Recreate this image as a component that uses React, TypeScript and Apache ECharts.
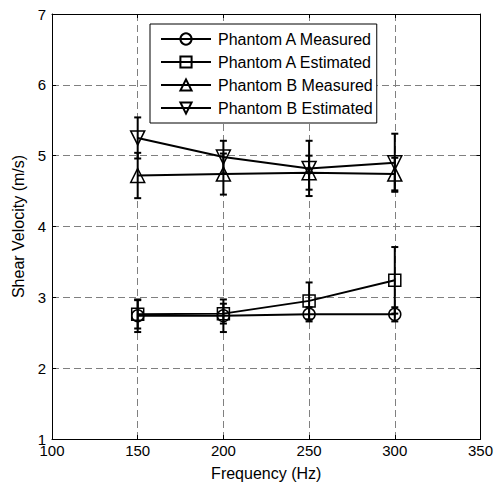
import React, { useEffect, useRef } from "react";
import * as echarts from "echarts";

const freqs = [150, 200, 250, 300];
const aMeasured = [2.74, 2.74, 2.76, 2.76];
const aMeasuredErr = [0.23, 0.23, 0.1, 0.1];
const aEstimated = [2.76, 2.77, 2.95, 3.24];
const aEstimatedErr = [0.2, 0.14, 0.26, 0.47];
const bMeasured = [4.72, 4.74, 4.76, 4.74];
const bMeasuredErr = [0.32, 0.29, 0.24, 0.23];
const bEstimated = [5.25, 4.98, 4.82, 4.9];
const bEstimatedErr = [0.29, 0.23, 0.39, 0.41];

const names = [
  "Phantom A Measured",
  "Phantom A Estimated",
  "Phantom B Measured",
  "Phantom B Estimated",
];

const FONT = "Liberation Sans, Arial, sans-serif";

export default function App() {
  const ref = useRef<HTMLDivElement>(null);
  useEffect(() => {
    document.body.style.margin = "0";
    if (!ref.current) return;
    const chart = echarts.init(ref.current, undefined, { renderer: "svg" });

    const lineSeries = (name: string, vals: number[], symbol: string, size: number, rotate = 0) => ({
      name,
      type: "line",
      data: freqs.map((f, i) => [f, vals[i]]),
      symbol,
      symbolSize: size,
      symbolRotate: rotate,
      showAllSymbol: true,
      lineStyle: { color: "#000", width: 2 },
      itemStyle: { color: "rgba(255,255,255,0)", borderColor: "#000", borderWidth: 1.5 },
      z: 3,
    });

    const errSeries = (vals: number[], errs: number[]) => ({
      type: "custom",
      data: freqs.map((f, i) => [f, vals[i] - errs[i], vals[i] + errs[i]]),
      encode: { x: 0, y: [1, 2] },
      renderItem: (params: any, api: any) => {
        const x = api.value(0);
        const lo = api.coord([x, api.value(1)]);
        const hi = api.coord([x, api.value(2)]);
        const cap = 3.5;
        const style = { stroke: "#000", lineWidth: 2 };
        return {
          type: "group",
          children: [
            { type: "line", shape: { x1: lo[0], y1: lo[1], x2: hi[0], y2: hi[1] }, style },
            { type: "line", shape: { x1: lo[0] - cap, y1: lo[1], x2: lo[0] + cap, y2: lo[1] }, style },
            { type: "line", shape: { x1: hi[0] - cap, y1: hi[1], x2: hi[0] + cap, y2: hi[1] }, style },
          ],
        };
      },
      z: 2,
      silent: true,
    });

    const splitLine = { show: true, lineStyle: { color: "#808080", width: 1, type: [7, 4] as any } };
    const axisLabel = { color: "#000", fontFamily: FONT, fontSize: 15 };

    chart.setOption({
      animation: false,
      backgroundColor: "#fff",
      grid: { left: 52, right: 13, top: 14, bottom: 43, show: false },
      legend: {
        data: names,
        orient: "vertical",
        left: 150,
        top: 24,
        itemWidth: 50,
        itemHeight: 14,
        itemGap: 7,
        padding: [7, 4, 7, 10],
        borderColor: "#000",
        borderWidth: 1,
        borderRadius: 0,
        backgroundColor: "#fff",
        textStyle: { color: "#000", fontFamily: FONT, fontSize: 16, padding: [0, 0, 0, 2] },
      },
      xAxis: [
        {
          type: "value",
          min: 100,
          max: 350,
          interval: 50,
          name: "Frequency (Hz)",
          nameLocation: "middle",
          nameGap: 26,
          nameTextStyle: { color: "#000", fontFamily: FONT, fontSize: 16 },
          axisLine: { show: true, lineStyle: { color: "#000", width: 1 } },
          axisTick: { show: true, inside: true, length: 4, lineStyle: { color: "#000" } },
          axisLabel: { ...axisLabel, margin: 4 },
          splitLine,
        },
        {
          type: "value",
          position: "top",
          min: 100,
          max: 350,
          interval: 50,
          axisLine: { show: true, lineStyle: { color: "#000", width: 1 } },
          axisTick: { show: true, inside: true, length: 4, lineStyle: { color: "#000" } },
          axisLabel: { show: false },
          splitLine: { show: false },
        },
      ],
      yAxis: [
        {
          type: "value",
          min: 1,
          max: 7,
          interval: 1,
          name: "Shear Velocity (m/s)",
          nameLocation: "middle",
          nameGap: 26,
          nameTextStyle: { color: "#000", fontFamily: FONT, fontSize: 16 },
          axisLine: { show: true, lineStyle: { color: "#000", width: 1 } },
          axisTick: { show: true, inside: true, length: 4, lineStyle: { color: "#000" } },
          axisLabel: { ...axisLabel, margin: 6 },
          splitLine,
        },
        {
          type: "value",
          position: "right",
          min: 1,
          max: 7,
          interval: 1,
          axisLine: { show: true, lineStyle: { color: "#000", width: 1 } },
          axisTick: { show: true, inside: true, length: 4, lineStyle: { color: "#000" } },
          axisLabel: { show: false },
          splitLine: { show: false },
        },
      ],
      series: [
        errSeries(aMeasured, aMeasuredErr),
        errSeries(aEstimated, aEstimatedErr),
        errSeries(bMeasured, bMeasuredErr),
        errSeries(bEstimated, bEstimatedErr),
        lineSeries(names[0], aMeasured, "circle", 12),
        lineSeries(names[1], aEstimated, "rect", 12),
        lineSeries(names[2], bMeasured, "triangle", 14),
        lineSeries(names[3], bEstimated, "triangle", 14, 180),
      ],
    });
    return () => chart.dispose();
  }, []);
  return <div ref={ref} style={{ width: 496, height: 486 }} />;
}
